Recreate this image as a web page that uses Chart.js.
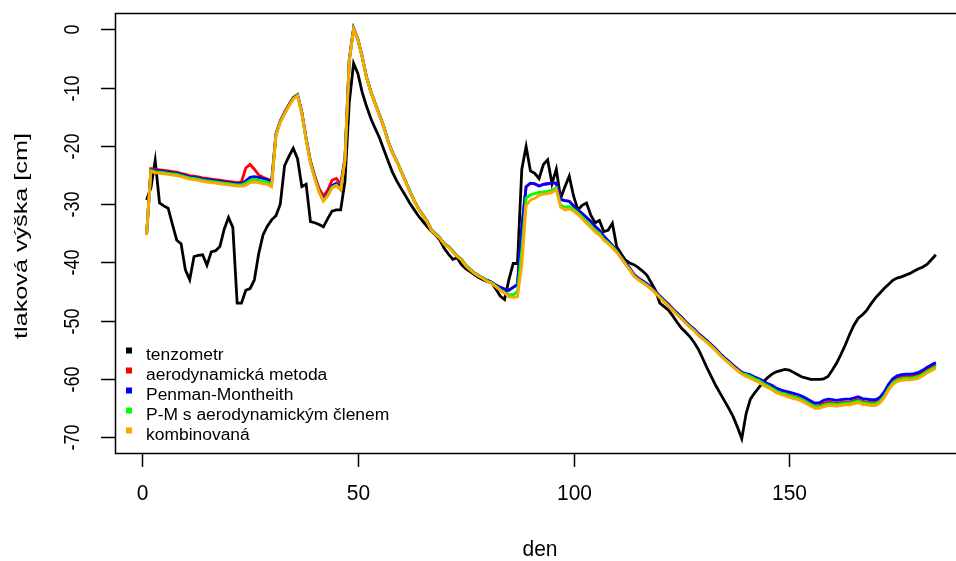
<!DOCTYPE html>
<html>
<head>
<meta charset="utf-8">
<script src="https://cdn.jsdelivr.net/npm/chart.js@4.4.1/dist/chart.umd.min.js"></script>
<style>
  html, body { margin: 0; padding: 0; background: #fff; }
  canvas { display: block; }
</style>
</head>
<body>
<canvas id="chart" width="956" height="561"></canvas>
<script>
// den 1..184
const days = [];
for (let d = 1; d <= 184; d++) days.push(d);

const tenzometr = [
  -29.3,-27.2,-22.5,-29.8,-30.3,-30.7,-33.5,-36.2,-36.8,-41.3,
  -43.0,-39.0,-38.8,-38.7,-40.5,-38.2,-38.0,-37.3,-34.3,-32.3,
  -34.0,-47.0,-47.0,-44.8,-44.5,-43.0,-38.5,-35.3,-33.8,-32.7,
  -32.0,-30.0,-23.4,-21.8,-20.4,-22.2,-27.0,-26.6,-33.0,-33.2,
  -33.5,-33.9,-32.5,-31.2,-31.0,-31.0,-26.1,-12.5,-5.8,-7.6,
  -10.8,-13.2,-15.3,-17.0,-18.6,-20.6,-22.6,-24.5,-26.0,-27.3,
  -28.5,-29.8,-30.9,-32.0,-32.9,-33.8,-34.6,-35.3,-36.2,-37.6,
  -38.6,-39.5,-39.2,-40.4,-41.1,-41.6,-42.1,-42.6,-43.0,-43.3,
  -43.5,-44.6,-45.8,-46.4,-43.0,-40.2,-40.2,-24.0,-20.1,-24.3,
  -24.7,-25.6,-23.2,-22.4,-26.5,-24.0,-29.0,-27.0,-25.2,-28.6,
  -31.0,-30.2,-29.8,-31.9,-33.2,-32.8,-34.7,-34.5,-33.3,-37.3,
  -38.5,-39.6,-40.1,-40.4,-40.9,-41.5,-42.2,-43.5,-44.8,-47.0,
  -47.6,-48.2,-49.2,-50.3,-51.3,-52.0,-52.8,-53.8,-55.0,-56.6,
  -58.2,-59.7,-61.2,-62.5,-63.8,-65.1,-66.5,-68.3,-70.3,-66.0,
  -63.5,-62.4,-61.5,-60.5,-59.8,-59.2,-58.8,-58.6,-58.4,-58.5,
  -58.9,-59.3,-59.7,-59.9,-60.1,-60.1,-60.1,-60.0,-59.6,-58.5,
  -57.3,-55.8,-54.2,-52.4,-50.8,-49.6,-49.0,-48.2,-47.1,-46.1,
  -45.3,-44.5,-43.8,-43.1,-42.7,-42.5,-42.2,-41.9,-41.5,-41.1,
  -40.8,-40.3,-39.5,-38.7
];

const aerodynamicka = [
  -35.3,-23.9,-24.0,-24.1,-24.2,-24.3,-24.4,-24.5,-24.7,-24.9,
  -25.1,-25.2,-25.3,-25.5,-25.6,-25.7,-25.8,-25.9,-26.0,-26.1,
  -26.2,-26.3,-26.2,-23.8,-23.2,-24.0,-25.0,-25.4,-25.7,-26.0,
  -17.9,-15.7,-14.2,-12.9,-11.7,-11.2,-14.2,-18.7,-22.6,-25.1,
  -27.3,-28.6,-27.6,-25.9,-25.6,-26.6,-22.0,-5.2,0.2,-1.7,
  -4.7,-8.2,-10.7,-12.7,-14.7,-16.7,-19.2,-21.1,-22.6,-24.3,
  -26.0,-27.7,-29.3,-30.7,-31.8,-32.9,-34.4,-35.1,-35.8,-36.8,
  -37.3,-38.1,-38.9,-39.5,-40.5,-41.2,-41.8,-42.3,-42.7,-43.1,
  -43.4,-43.9,-44.3,-44.6,-44.8,-44.3,-43.8,-34.0,-27.0,-26.4,
  -26.5,-26.9,-26.6,-26.5,-26.4,-26.4,-29.2,-29.4,-29.5,-30.3,
  -31.0,-31.6,-32.3,-33.0,-33.8,-34.5,-35.5,-36.3,-37.1,-38.0,
  -39.0,-40.0,-41.0,-42.1,-42.7,-43.2,-43.7,-44.3,-45.0,-45.8,
  -46.5,-47.2,-48.0,-48.7,-49.4,-50.2,-50.9,-51.5,-52.3,-52.9,
  -53.5,-54.2,-54.9,-55.7,-56.4,-57.0,-57.7,-58.3,-58.9,-59.4,
  -59.6,-60.0,-60.3,-60.7,-61.1,-61.4,-61.9,-62.2,-62.4,-62.8,
  -63.0,-63.2,-63.5,-63.9,-64.3,-64.7,-64.6,-64.2,-64.0,-64.1,
  -64.2,-64.1,-64.0,-64.0,-63.8,-63.6,-63.9,-64.0,-64.1,-64.1,
  -63.7,-62.6,-61.3,-60.3,-59.8,-59.6,-59.5,-59.5,-59.4,-59.2,
  -58.8,-58.3,-57.9,-57.5
];

const penmanMontheith = [
  -35.3,-24.1,-24.2,-24.3,-24.4,-24.5,-24.6,-24.7,-24.9,-25.1,
  -25.3,-25.4,-25.5,-25.7,-25.8,-25.9,-26.0,-26.1,-26.2,-26.3,
  -26.4,-26.5,-26.5,-26.0,-25.4,-25.3,-25.4,-25.6,-25.8,-26.2,
  -18.0,-15.8,-14.3,-13.0,-11.8,-11.2,-14.3,-18.8,-22.8,-25.4,
  -27.8,-29.2,-28.3,-26.8,-26.4,-27.2,-22.3,-5.2,0.2,-1.7,
  -4.7,-8.2,-10.7,-12.7,-14.7,-16.7,-19.2,-21.1,-22.6,-24.3,
  -26.0,-27.7,-29.3,-30.7,-31.8,-32.9,-34.4,-35.1,-35.8,-36.8,
  -37.3,-38.1,-38.9,-39.5,-40.5,-41.2,-41.8,-42.3,-42.7,-43.1,
  -43.4,-43.9,-44.3,-44.6,-44.8,-44.3,-43.8,-34.0,-27.0,-26.4,
  -26.5,-26.9,-26.6,-26.5,-26.4,-26.4,-29.2,-29.4,-29.5,-30.3,
  -31.0,-31.6,-32.3,-33.0,-33.8,-34.5,-35.5,-36.3,-37.1,-38.0,
  -39.0,-40.0,-41.0,-42.1,-42.7,-43.2,-43.7,-44.3,-45.0,-45.8,
  -46.5,-47.2,-48.0,-48.7,-49.4,-50.2,-50.9,-51.5,-52.3,-52.9,
  -53.5,-54.2,-54.9,-55.7,-56.4,-57.0,-57.7,-58.3,-58.9,-59.1,
  -59.3,-59.7,-60.0,-60.4,-60.8,-61.1,-61.6,-61.9,-62.1,-62.3,
  -62.5,-62.7,-63.0,-63.4,-63.8,-64.2,-64.1,-63.7,-63.5,-63.6,
  -63.7,-63.6,-63.5,-63.5,-63.3,-63.1,-63.4,-63.5,-63.6,-63.6,
  -63.2,-62.3,-61.0,-60.0,-59.5,-59.3,-59.2,-59.2,-59.1,-58.9,
  -58.5,-58.0,-57.6,-57.2
];

const pmAerodyn = [
  -35.3,-24.2,-24.4,-24.5,-24.6,-24.7,-24.8,-24.9,-25.1,-25.3,
  -25.5,-25.6,-25.7,-25.9,-26.0,-26.1,-26.2,-26.3,-26.4,-26.5,
  -26.6,-26.7,-26.7,-26.4,-25.9,-25.8,-25.9,-26.1,-26.2,-26.6,
  -18.1,-15.9,-14.4,-13.1,-11.9,-11.3,-14.4,-18.9,-22.9,-25.5,
  -27.9,-29.4,-28.5,-27.1,-26.7,-27.5,-22.4,-5.4,0.1,-1.7,
  -4.7,-8.2,-10.7,-12.7,-14.7,-16.7,-19.2,-21.1,-22.6,-24.3,
  -26.0,-27.7,-29.3,-30.7,-31.8,-32.9,-34.4,-35.1,-35.8,-36.8,
  -37.3,-38.1,-38.9,-39.5,-40.5,-41.2,-41.8,-42.3,-42.7,-43.2,
  -43.5,-44.1,-44.7,-45.2,-45.5,-45.6,-45.0,-38.0,-29.0,-28.4,
  -28.2,-28.0,-27.9,-27.8,-27.6,-27.2,-30.2,-30.5,-30.4,-30.9,
  -31.5,-32.2,-33.0,-33.7,-34.5,-35.0,-36.0,-36.6,-37.3,-38.1,
  -39.2,-40.2,-41.2,-42.3,-42.9,-43.4,-43.9,-44.5,-45.2,-46.0,
  -46.7,-47.4,-48.2,-48.9,-49.6,-50.4,-51.1,-51.7,-52.5,-53.1,
  -53.7,-54.4,-55.1,-55.9,-56.6,-57.2,-57.9,-58.5,-59.1,-59.3,
  -59.6,-60.0,-60.3,-60.8,-61.2,-61.6,-62.1,-62.4,-62.6,-62.9,
  -63.1,-63.3,-63.6,-64.0,-64.4,-64.8,-64.8,-64.5,-64.3,-64.3,
  -64.4,-64.3,-64.2,-64.2,-64.0,-63.8,-64.1,-64.2,-64.3,-64.3,
  -63.9,-63.0,-61.7,-60.7,-60.2,-60.0,-59.9,-59.9,-59.8,-59.6,
  -59.2,-58.7,-58.3,-57.9
];

const kombinovana = [
  -35.3,-24.4,-24.6,-24.7,-24.8,-24.9,-25.0,-25.1,-25.3,-25.5,
  -25.7,-25.8,-25.9,-26.1,-26.2,-26.3,-26.4,-26.5,-26.6,-26.7,
  -26.8,-26.9,-26.9,-26.8,-26.3,-26.2,-26.3,-26.5,-26.6,-27.0,
  -18.2,-16.0,-14.5,-13.2,-12.0,-11.4,-14.5,-19.0,-23.0,-25.6,
  -28.0,-29.5,-28.6,-27.2,-26.8,-27.6,-22.5,-5.5,0.0,-1.8,
  -4.8,-8.3,-10.8,-12.8,-14.8,-16.8,-19.3,-21.2,-22.7,-24.4,
  -26.1,-27.8,-29.4,-30.8,-31.9,-33.0,-34.5,-35.2,-35.9,-36.9,
  -37.4,-38.2,-39.0,-39.6,-40.6,-41.3,-41.9,-42.4,-42.8,-43.3,
  -43.6,-44.2,-44.8,-45.3,-45.9,-46.0,-45.9,-40.5,-30.2,-29.3,
  -29.0,-28.5,-28.3,-28.2,-28.0,-27.5,-30.5,-31.0,-30.8,-31.2,
  -31.8,-32.5,-33.3,-34.0,-34.8,-35.3,-36.2,-36.8,-37.5,-38.3,
  -39.3,-40.3,-41.3,-42.4,-43.0,-43.5,-44.0,-44.6,-45.3,-46.1,
  -46.8,-47.5,-48.3,-49.0,-49.7,-50.5,-51.2,-51.8,-52.6,-53.2,
  -53.8,-54.5,-55.2,-56.0,-56.7,-57.3,-58.0,-58.6,-59.2,-59.6,
  -59.9,-60.3,-60.6,-61.1,-61.5,-61.9,-62.4,-62.7,-62.9,-63.2,
  -63.4,-63.6,-63.9,-64.3,-64.7,-65.1,-65.1,-64.8,-64.6,-64.6,
  -64.7,-64.6,-64.5,-64.5,-64.3,-64.1,-64.4,-64.5,-64.6,-64.6,
  -64.2,-63.3,-62.0,-61.0,-60.5,-60.3,-60.2,-60.2,-60.1,-59.9,
  -59.5,-59.0,-58.6,-58.2
];

const xTicks = [0, 50, 100, 150];
const yTicks = [0, -10, -20, -30, -40, -50, -60, -70];

const FONT = '"Liberation Sans", Arial, sans-serif';

function toXY(values) {
  return values.map((v, i) => ({ x: days[i], y: v }));
}

function txt(ctx, s, x, y, size, o) {
  o = o || {};
  ctx.save();
  ctx.translate(x, y);
  if (o.rot) ctx.rotate(o.rot);
  ctx.scale(o.sx || 1, o.sy || 1);
  ctx.font = size + 'px ' + FONT;
  ctx.fillStyle = '#000';
  ctx.textAlign = o.align || 'center';
  ctx.textBaseline = o.base || 'middle';
  ctx.fillText(s, 0, 0);
  ctx.restore();
}

// R-like box, ticks, axis titles and legend
const rFrame = {
  id: 'rFrame',
  afterDraw(chart) {
    const ctx = chart.ctx;
    const a = chart.chartArea;
    const xs = chart.scales.x, ys = chart.scales.y;
    ctx.save();
    ctx.strokeStyle = '#000';
    ctx.lineWidth = 1.5;
    ctx.beginPath();
    ctx.moveTo(a.right + 5, a.top + 0.5);
    ctx.lineTo(a.left + 0.5, a.top + 0.5);
    ctx.lineTo(a.left + 0.5, a.bottom + 0.5);
    ctx.lineTo(a.right + 5, a.bottom + 0.5);
    ctx.stroke();

    xTicks.forEach(v => {
      const px = Math.round(xs.getPixelForValue(v)) + 0.5;
      ctx.beginPath();
      ctx.moveTo(px, a.bottom);
      ctx.lineTo(px, a.bottom + 14);
      ctx.stroke();
      txt(ctx, String(v), px, 494, 21, { sy: 1.08 });
    });
    yTicks.forEach(v => {
      const py = Math.round(ys.getPixelForValue(v)) + 0.5;
      ctx.beginPath();
      ctx.moveTo(a.left, py);
      ctx.lineTo(a.left - 14, py);
      ctx.stroke();
      txt(ctx, String(v), 73, py, 18, { rot: -Math.PI / 2, sy: 1.25 });
    });

    txt(ctx, 'den', 540, 550, 21, { sy: 1.08 });
    txt(ctx, 'tlaková výška [cm]', 22, 236, 18, { rot: -Math.PI / 2, sx: 1.4, sy: 1.05 });

    // legend
    chart.data.datasets.forEach((ds, i) => {
      ctx.fillStyle = ds.borderColor;
      ctx.fillRect(126, 347.5 + 20 * i, 6, 6);
      txt(ctx, ds.label, 146, 359.5 + 20 * i, 16, { align: 'left', base: 'alphabetic', sx: 1.09 });
    });
    ctx.restore();
  }
};

const series = [
  { label: 'tenzometr', data: tenzometr, color: '#000000', order: 4 },
  { label: 'aerodynamická metoda', data: aerodynamicka, color: '#ff0000', order: 3 },
  { label: 'Penman-Montheith', data: penmanMontheith, color: '#0000ff', order: 2 },
  { label: 'P-M s aerodynamickým členem', data: pmAerodyn, color: '#00ff00', order: 1 },
  { label: 'kombinovaná', data: kombinovana, color: '#ffa500', order: 0 }
];

new Chart(document.getElementById('chart'), {
  type: 'line',
  data: {
    datasets: series.map(s => ({
      label: s.label,
      data: toXY(s.data),
      borderColor: s.color,
      backgroundColor: s.color,
      borderWidth: 2.8,
      pointRadius: 0,
      tension: 0,
      fill: false,
      order: s.order
    }))
  },
  options: {
    responsive: false,
    animation: false,
    devicePixelRatio: 1,
    layout: { padding: { left: 115, top: 13, right: 1, bottom: 108 } },
    plugins: {
      legend: { display: false },
      tooltip: { enabled: false }
    },
    scales: {
      x: { type: 'linear', display: false, min: -6.32, max: 188.44 },
      y: { type: 'linear', display: false, min: -72.75, max: 2.83 }
    }
  },
  plugins: [rFrame]
});
</script>
</body>
</html>
